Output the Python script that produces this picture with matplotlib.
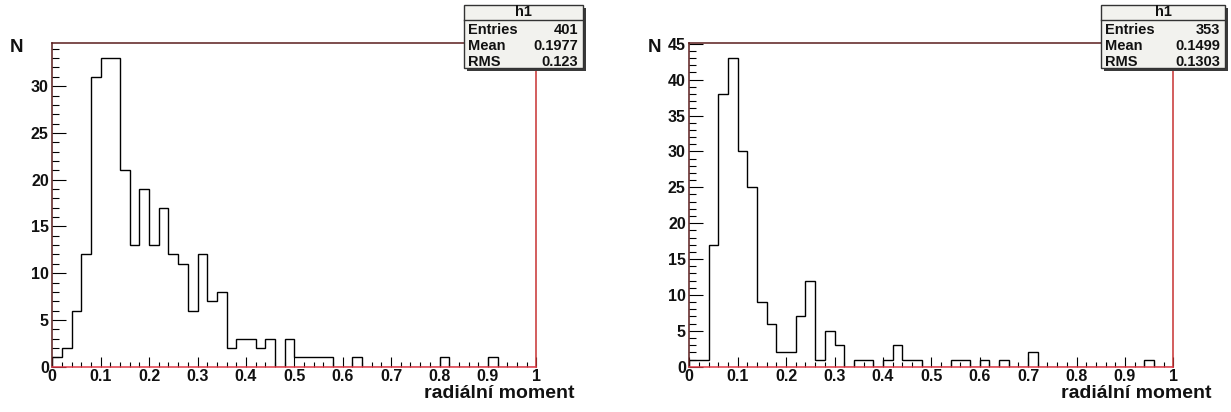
import matplotlib
matplotlib.use("Agg")
import matplotlib.pyplot as plt
from matplotlib.patches import Rectangle
from matplotlib.lines import Line2D
from matplotlib.ticker import MultipleLocator
import numpy as np

plt.rcParams['font.family'] = ['Liberation Sans', 'DejaVu Sans']
plt.rcParams['font.weight'] = 'bold'

# 50 bins from 0 to 1
bin_edges = [round(i * 0.02, 2) for i in range(51)]

counts_left = [1, 2, 6, 12, 31, 33, 33, 21, 13, 19,
               13, 17, 12, 11, 6, 12, 7, 8, 2, 3,
               3, 2, 3, 0, 3, 1, 1, 1, 1, 0,
               0, 1, 0, 0, 0, 0, 0, 0, 0, 0,
               1, 0, 0, 0, 0, 1, 0, 0, 0, 0]

counts_right = [1, 1, 17, 38, 43, 30, 25, 9, 6, 2,
                2, 7, 12, 1, 5, 3, 0, 1, 1, 0,
                1, 3, 1, 1, 0, 0, 0, 1, 1, 0,
                1, 0, 1, 0, 0, 2, 0, 0, 0, 0,
                0, 0, 0, 0, 0, 0, 0, 1, 0, 0]

stats_left = [("Entries", "401"), ("Mean", "0.1977"), ("RMS", "0.123")]
stats_right = [("Entries", "353"), ("Mean", "0.1499"), ("RMS", "0.1303")]
hist_name = "h1"
x_label = "radiální moment"
y_label = "N"
x_ticks = [0, 0.1, 0.2, 0.3, 0.4, 0.5, 0.6, 0.7, 0.8, 0.9, 1]
x_tick_labels = ["0", "0.1", "0.2", "0.3", "0.4", "0.5", "0.6", "0.7", "0.8", "0.9", "1"]

W, H = 1231, 412
fig = plt.figure(figsize=(W / 100, H / 100), dpi=100)
TXT = '#111111'


def fx(x):
    return x / W


def fy(y):
    return 1 - y / H


def draw_panel(x0, counts, stats, box, ylab_x):
    ax_left, ax_top, ax_w, ax_bot = x0, 42.7, 484, 366.7
    ax = fig.add_axes([fx(ax_left), fy(ax_bot), ax_w / W, (ax_bot - ax_top) / H])
    ax.stairs(counts, bin_edges, color='black', linewidth=1.0, baseline=0)
    ymax = max(counts) * 1.05
    ax.set_xlim(0, 1)
    ax.set_ylim(0, ymax)
    ax.xaxis.set_minor_locator(MultipleLocator(0.02))
    ax.yaxis.set_major_locator(MultipleLocator(5))
    ax.yaxis.set_minor_locator(MultipleLocator(1))
    ax.set_xticks(x_ticks)
    ax.set_xticklabels(x_tick_labels)
    ax.tick_params(axis='x', which='major', direction='in', length=7, width=0.8,
                   labelsize=11.5, pad=1.5)
    ax.tick_params(axis='x', which='minor', direction='in', length=3.3, width=0.8)
    ax.tick_params(axis='y', which='major', direction='in', length=10.4, width=0.8,
                   labelsize=11.5, pad=2.5)
    ax.tick_params(axis='y', which='minor', direction='in', length=5.2, width=0.8)
    for lab in ax.get_xticklabels() + ax.get_yticklabels():
        lab.set_fontweight('bold')
        lab.set_color(TXT)
    ax.spines['top'].set_color('#5a1c1c')
    ax.spines['left'].set_color('#5a1c1c')
    ax.spines['right'].set_color('#c83232')
    ax.spines['bottom'].set_color('#e03a48')
    for s in ax.spines.values():
        s.set_linewidth(1.1)

    # axis titles
    fig.text(fx(ylab_x), fy(47.5), y_label, fontsize=13.5, fontweight='bold',
             ha='left', va='center', color=TXT)
    fig.text(fx(ax_left + ax_w + 38), fy(393), x_label, fontsize=14,
             fontweight='bold', ha='right', va='center', color=TXT)

    # stats box
    bx0, bx1, by0, by1 = box
    sh = 3
    fig.add_artist(Rectangle((fx(bx0 + sh), fy(by1 + sh)), (bx1 - bx0) / W,
                             (by1 - by0) / H, transform=fig.transFigure,
                             facecolor='#3a3a3a', edgecolor='none', zorder=5))
    fig.add_artist(Rectangle((fx(bx0), fy(by1)), (bx1 - bx0) / W,
                             (by1 - by0) / H, transform=fig.transFigure,
                             facecolor='#f2f2ee', edgecolor='#333333',
                             linewidth=1.0, zorder=6))
    fig.add_artist(Line2D([fx(bx0), fx(bx1)], [fy(20), fy(20)],
                          transform=fig.transFigure, color='#333333',
                          linewidth=1.0, zorder=7))
    fig.text(fx((bx0 + bx1) / 2), fy(12.5), hist_name, fontsize=10.5,
             fontweight='bold', ha='center', va='center', color=TXT,
             zorder=8)
    ys = [30, 46, 61.5]
    for (name, val), yy in zip(stats, ys):
        fig.text(fx(bx0 + 4), fy(yy), name, fontsize=10.5, fontweight='bold',
                 ha='left', va='center', color=TXT, zorder=8)
        fig.text(fx(bx1 - 5), fy(yy), val, fontsize=10.5, fontweight='bold',
                 ha='right', va='center', color=TXT, zorder=8)
    return ax


draw_panel(52.3, counts_left, stats_left, (464.3, 583.3, 4.7, 68.3), 10)
draw_panel(689.3, counts_right, stats_right, (1101, 1225, 4.7, 68.3), 647.3)

fig.savefig("out.png", dpi=100)
